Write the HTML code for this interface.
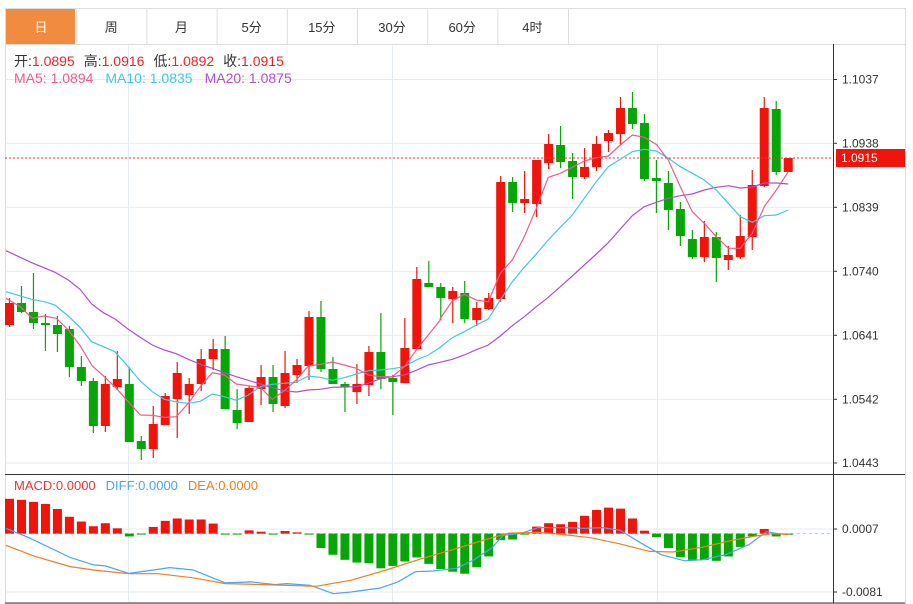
<!DOCTYPE html><html><head><meta charset="utf-8"><style>
body{margin:0;background:#fff;font-family:"Liberation Sans","Noto Sans CJK SC",sans-serif}
svg{display:block}
</style></head><body>
<svg id="s" width="913" height="604" xmlns="http://www.w3.org/2000/svg" font-family="Liberation Sans, Noto Sans CJK SC, sans-serif"></svg>
<script>
var S=document.getElementById('s');var h='';
function L(x1,y1,x2,y2,c,w,d){h+='<line x1="'+x1+'" y1="'+y1+'" x2="'+x2+'" y2="'+y2+'" stroke="'+c+'" stroke-width="'+(w||1)+'"'+(d?' stroke-dasharray="'+d+'"':'')+'/>';}
function R(x,y,w,hh,c){h+='<rect x="'+x+'" y="'+y+'" width="'+w+'" height="'+hh+'" fill="'+c+'"/>';}
function T(x,y,t,c,s,a){h+='<text x="'+x+'" y="'+y+'" fill="'+c+'" font-size="'+(s||12)+'"'+(a?' text-anchor="'+a+'"':'')+'>'+t+'</text>';}
h+='<rect x="5.5" y="8.5" width="900" height="595" fill="none" stroke="#ddd"/>';
var tabs=['日','周','月','5分','15分','30分','60分','4时'];
R(6,9,69,35,'#f18b3f');
for(var i=0;i<8;i++){var x0=6+i*70.2;T(x0+35,32,tabs[i],i==0?'#fff':'#333',13,'middle');if(i>0)L(x0+0.5,9,x0+0.5,44,'#ddd');}
L(568.5,9,568.5,44,'#ddd');
L(5,44.5,905,44.5,'#ddd');
var gy=[79.5,143.3,207.3,271.3,335.3,399.3,463];var gl=['1.1037','1.0938','1.0839','1.0740','1.0641','1.0542','1.0443'];
for(i=0;i<7;i++){L(5,gy[i],833,gy[i],'#e3ebf3');L(833,gy[i],837,gy[i],'#333');T(842,gy[i]+4,gl[i],'#333',12);}
[128.5,392.5,657.5].forEach(function(x){L(x,44,x,603,'#e3ebf3');});
L(833.5,44,833.5,603,'#333');
L(5,474.5,905,474.5,'#333');L(5,603,905,603,'#333');
h+='<text x="14" y="66" font-size="14"><tspan fill="#333">开:</tspan><tspan fill="#ee2222">1.0895</tspan><tspan fill="#333" dx="9">高:</tspan><tspan fill="#ee2222">1.0916</tspan><tspan fill="#333" dx="9">低:</tspan><tspan fill="#ee2222">1.0892</tspan><tspan fill="#333" dx="9">收:</tspan><tspan fill="#ee2222">1.0915</tspan></text>';
h+='<text x="14" y="83" font-size="14"><tspan fill="#ef5b8a">MA5: 1.0894</tspan><tspan fill="#40c8e0" dx="12">MA10: 1.0835</tspan><tspan fill="#b04ecc" dx="12">MA20: 1.0875</tspan></text>';
var C=[[303,325,298,327,1],[303,312,286,313,0],[312,323,273,329,0],[323,325,314,351,0],[325,334,316,352,0],[329,367,326,377,0],[367,381,356,386,0],[381,426,378,433,0],[384,426,376,432,1],[379,387,351,390,1],[384,442,367,442,0],[441,449,436,460,0],[424,449,406,458,1],[396,425,393,425,1],[373,399,362,438,1],[384,395,378,414,1],[359,384,349,391,1],[349,359,339,370,1],[349,409,336,409,0],[410,423,389,429,0],[388,422,386,422,1],[377,389,365,405,1],[377,404,365,412,0],[373,406,351,408,1],[365,375,359,383,1],[317,366,311,380,1],[317,369,301,372,0],[369,384,357,384,0],[384,387,382,412,0],[384,392,364,404,1],[352,385,346,396,1],[352,379,313,389,0],[378,382,375,415,0],[348,383,318,383,1],[279,349,267,349,1],[283,287,261,287,0],[287,298,283,320,0],[291,299,287,323,1],[293,319,281,323,0],[308,320,302,326,1],[298,309,293,310,1],[182,299,176,302,1],[182,203,177,212,0],[199,203,171,213,1],[160,204,160,217,1],[144,163,134,169,1],[145,162,126,168,0],[161,177,153,199,0],[167,177,148,179,1],[144,167,136,171,1],[133,141,130,152,1],[108,134,97,145,1],[108,124,92,129,0],[123,179,114,181,0],[178,181,160,213,0],[183,210,171,230,0],[209,236,202,246,0],[239,257,230,259,0],[237,257,221,262,1],[237,258,232,282,0],[255,260,246,270,1],[236,257,215,259,1],[185,237,170,250,1],[108,186,97,187,1],[109,172,101,175,0],[158,172,158,172,1]];
var RED='#f0140a',GRN='#06a606';
C.forEach(function(c,i){var x=9.5+11.98*i;var col=c[4]?RED:GRN;L(x,c[2],x,c[3],col,1.2);R(x-4.5,c[0],9,Math.max(2,c[1]-c[0]),col);});
L(5,158,833,158,'#f03030',1,'2,2');
R(836,149,69,18,'#f0140a');T(841,162,'1.0915','#fff',12);
function P(a,b,c){var s='';a.forEach(function(p){s+=(p[0]/3).toFixed(1)+','+(240+p[1]/3).toFixed(1)+' ';});b.forEach(function(p){s+=(440+p[0]/3).toFixed(1)+','+(80+p[1]/3).toFixed(1)+' ';});h+='<polyline points="'+s+'" fill="none" stroke="'+c+'" stroke-width="1.2"/>';}
P([[18,32],[95,68],[165,97],[205,120],[240,148],[275,192],[310,218],[345,237],[385,268],[420,292],[457,315],[493,330],[529,341],[565,358],[601,373],[637,385],[673,398],[709,410],[745,421],[781,432],[817,443],[853,452],[889,456],[925,450],[961,448],[997,442],[1033,441],[1069,440],[1105,430],[1141,416],[1177,410],[1213,405],[1249,391],[1285,375],[1321,367]],[[0,847],[37,838],[73,825],[109,809],[145,795],[181,768],[217,737],[253,710],[289,680],[325,652],[361,620],[397,588],[433,555],[469,522],[505,488],[541,447],[577,407],[613,380],[649,367],[685,355],[721,347],[757,342],[793,330],[829,322],[865,317],[901,324],[937,321],[973,309],[1009,309],[1045,312]],'#b04ecc');
P([[18,155],[95,178],[133,185],[165,195],[205,228],[240,262],[275,305],[310,320],[345,335],[385,380],[420,422],[457,455],[493,478],[529,486],[565,490],[601,484],[637,462],[673,470],[709,481],[745,465],[781,440],[817,433],[853,430],[889,427],[925,408],[961,412],[997,421],[1033,413],[1069,402],[1105,392],[1141,390],[1177,386],[1213,380],[1249,360],[1285,345],[1321,322]],[[0,802],[37,773],[73,755],[109,735],[145,717],[181,660],[217,605],[253,562],[289,522],[325,480],[361,442],[397,405],[433,355],[469,305],[505,260],[541,238],[577,215],[613,208],[649,213],[685,235],[721,260],[757,280],[793,300],[829,330],[865,370],[901,410],[937,427],[973,407],[1009,405],[1045,390]],'#40c8e0');
P([[18,175],[61,200],[97,235],[133,228],[169,235],[205,270],[241,318],[277,378],[313,410],[349,445],[385,485],[421,525],[457,526],[493,532],[529,530],[565,490],[601,440],[637,398],[673,405],[709,432],[745,437],[781,442],[817,478],[853,452],[889,420],[925,378],[961,373],[997,366],[1033,375],[1069,385],[1105,405],[1141,410],[1177,410],[1213,380],[1249,330],[1285,285],[1321,240]],[[0,717],[37,663],[73,643],[109,660],[145,665],[181,580],[217,540],[253,470],[289,385],[325,292],[361,280],[397,262],[433,243],[469,233],[505,228],[541,195],[577,165],[613,172],[649,193],[685,240],[721,320],[757,395],[793,430],[829,470],[865,505],[901,505],[937,460],[973,380],[1009,330],[1045,275]],'#ef5b8a');
L(5,529,833,529,'#e3ebf3');L(5,592,833,592,'#e3ebf3');
L(833,529,837,529,'#333');L(833,592,837,592,'#333');
T(842,533,'0.0007','#333',12);T(842,596,'-0.0081','#333',12);
var Z=533.6;L(5,Z,833,Z,'#a8d0f0',1,'3,3');
var M=[85,88,94,100,115,138,152,166,157,172,196,188,168,150,143,146,146,158,188,188,178,182,188,180,184,190,230,250,265,273,275,290,283,270,258,277,292,300,306,287,255,207,205,188,167,157,160,153,135,118,111,114,143,179,198,230,257,265,265,268,255,227,196,174,196,191];
M.forEach(function(v,i){var x=9.5+11.98*i;var y=470+v/2.95;var col=y<Z?RED:GRN;var t=Math.min(y,Z),hh=Math.abs(y-Z);if(hh<1)hh=1;R(x-4.5,t,9,hh,col);});
function Q(a,c){var s='';a.forEach(function(p){s+=(p[0]/1.709).toFixed(1)+','+(470+p[1]/2.95).toFixed(1)+' ';});h+='<polyline points="'+s+'" fill="none" stroke="'+c+'" stroke-width="1.2"/>';}
Q([[10,172],[50,200],[120,258],[160,280],[180,283],[220,305],[250,298],[290,288],[330,295],[385,333],[430,330],[470,338],[490,335],[530,340],[570,365],[600,360],[650,348],[680,330],[710,300],[740,298],[780,290],[810,265],[840,230],[860,193],[890,187],[920,170],[960,170],[1000,172],[1030,170],[1060,178],[1090,210],[1130,250],[1170,268],[1200,265],[1240,250],[1280,220],[1310,182],[1330,188],[1350,190]],'#4aa5f0');
Q([[10,222],[60,255],[120,285],[160,295],[220,306],[270,306],[330,318],[385,335],[450,338],[540,343],[600,325],[660,295],[720,262],[780,232],[830,205],[870,186],[920,184],[960,190],[1010,200],[1060,218],[1110,240],[1150,242],[1200,228],[1250,208],[1290,195],[1320,188],[1350,190]],'#f07d22');
h+='<text x="14" y="490" font-size="13"><tspan fill="#ee3333">MACD:0.0000</tspan><tspan fill="#4aa5f0" dx="10">DIFF:0.0000</tspan><tspan fill="#f07d22" dx="10">DEA:0.0000</tspan></text>';
S.innerHTML=h;
</script></body></html>
